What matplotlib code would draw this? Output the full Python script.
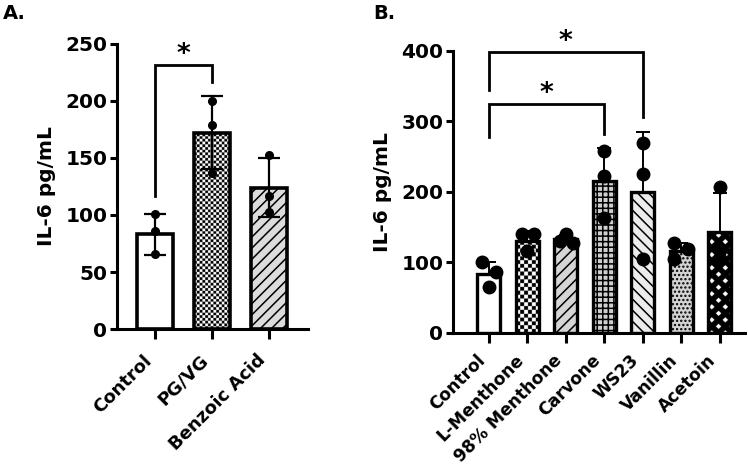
import numpy as np
import matplotlib
matplotlib.use("Agg")
import matplotlib.pyplot as plt

# panel A data
a_groups = ["Control", "PG/VG", "Benzoic Acid"]
a_means = [83, 172, 124]
a_sd = [18, 32, 26]
a_points = [[101, 86, 66], [200, 179, 137], [153, 117, 103]]

# panel B data
b_groups = ["Control", "L-Menthone", "98% Menthone", "Carvone", "WS23", "Vanillin", "Acetoin"]
b_means = [83, 131, 133, 215, 200, 116, 143]
b_sd = [17, 14, 6, 48, 85, 12, 56]
b_points = [[100, 86, 65], [140, 140, 116], [140, 131, 128], [258, 223, 163],
            [270, 226, 105], [128, 119, 105], [207, 118, 105]]
b_jitter = [[-0.18, 0.18, 0], [-0.15, 0.18, 0], [0, -0.16, 0.18], [0, 0, 0],
            [0, 0, 0], [-0.2, 0.18, -0.2], [0, 0, 0]]

# significance brackets: (left, right, top, left leg end, right leg end)
a_sig = [(0, 1, 232, 117, 217)]
b_sig = [(0, 4, 399, 344, 306), (0, 3, 325, 278, 282)]

plt.rcParams["font.family"] = "DejaVu Sans"
plt.rcParams["font.weight"] = "bold"
plt.rcParams["hatch.linewidth"] = 1.1

fig = plt.figure(figsize=(7.48, 4.68), dpi=100)
axA = fig.add_axes([0.1564, 0.297, 0.2553, 0.609])
axB = fig.add_axes([0.6056, 0.2885, 0.390, 0.6026])


def texture(ax, bar, kind, cell):
    x0, y0 = bar.get_x(), bar.get_y()
    w, h = bar.get_width(), bar.get_height()
    (px0, py0), (px1, py1) = ax.transData.transform([(x0, y0), (x0 + w, y0 + h)])
    s = 4  # supersample
    nx, ny = int(round((px1 - px0) * s)), int(round((py1 - py0) * s))
    yy, xx = np.mgrid[0:ny, 0:nx] / s
    if kind == "checker":
        img = ((xx // cell + yy // cell) % 2).astype(float)
    else:  # white diamonds on black
        u = (xx + yy + 3) % cell - cell / 2
        v = (xx - yy + 3) % cell - cell / 2
        img = ((np.abs(u) < 2.7) & (np.abs(v) < 2.7)).astype(float)
    im = ax.imshow(img, cmap="gray", vmin=0, vmax=1, extent=(x0, x0 + w, y0, y0 + h),
                   origin="lower", aspect="auto", interpolation="antialiased", zorder=1.5)
    im.set_clip_path(bar)


def style_axis(ax, ymax, step, xmax, xmin, xfs, xpad):
    ax.set_ylim(0, ymax)
    ax.set_xlim(xmin, xmax)
    ax.set_yticks(np.arange(0, ymax + 1, step))
    for side in ["top", "right"]:
        ax.spines[side].set_visible(False)
    for side in ["left", "bottom"]:
        ax.spines[side].set_linewidth(2.2)
    ax.tick_params(axis="y", length=5, width=2.2, labelsize=14.5, pad=2)
    ax.tick_params(axis="x", length=7, width=2.2, labelsize=xfs, pad=xpad)
    ax.set_ylabel("IL-6 pg/mL", fontsize=14.5, fontweight="bold", labelpad=7)


def brackets(ax, sig, fs):
    for l, r, top, yl, yr in sig:
        ax.plot([l, l, r, r], [yl, top, top, yr], color="black", lw=2.0,
                clip_on=False, solid_joinstyle="miter", zorder=5)
        ax.annotate("*", ((l + r) / 2, top), xytext=(0, 7), textcoords="offset points",
                    ha="center", va="center", fontsize=fs, fontweight="bold",
                    annotation_clip=False)


# ---- panel A
style_axis(axA, 250, 50, 2.684, -0.667, 13, 9)
xa = np.arange(len(a_groups))
a_faces = ["white", "none", "#dcdcdc"]
a_hatch = [None, None, "///"]
barsA = axA.bar(xa, a_means, width=0.62, color=a_faces, edgecolor="black",
                linewidth=2.6, zorder=2)
for b, h in zip(barsA, a_hatch):
    if h:
        b.set_hatch(h)
texture(axA, barsA[1], "checker", 2.7)
axA.errorbar(xa, a_means, yerr=a_sd, fmt="none", ecolor="black", elinewidth=1.6,
             capsize=8, capthick=1.6, zorder=3)
for i, pts in enumerate(a_points):
    axA.plot([i] * len(pts), pts, "o", color="black", ms=5.5, zorder=4)
axA.set_xticks(xa)
axA.set_xticklabels(a_groups, rotation=45, ha="right", fontweight="bold")
brackets(axA, a_sig, 19)

# ---- panel B
style_axis(axB, 400, 100, 6.65, -0.935, 12.3, 6)
xb = np.arange(len(b_groups))
b_faces = ["white", "none", "#d5d5d5", "#cfcfcf", "#ececec", "#d4d4d4", "none"]
b_hatch = [None, None, "///", "+++", "\\\\\\", "....", None]
barsB = axB.bar(xb, b_means, width=0.6, color=b_faces, edgecolor="black",
                linewidth=2.4, zorder=2)
for b, h in zip(barsB, b_hatch):
    if h:
        b.set_hatch(h)
texture(axB, barsB[1], "checker", 3.8)
texture(axB, barsB[6], "diamond", 13)
axB.errorbar(xb, b_means, yerr=[np.zeros(len(b_sd)), b_sd], fmt="none", ecolor="black",
             elinewidth=1.4, capsize=5, capthick=1.4, zorder=3)
for i, (pts, jit) in enumerate(zip(b_points, b_jitter)):
    axB.plot(i + np.array(jit), pts, "o", color="black", ms=9, zorder=4)
axB.set_xticks(xb)
axB.set_xticklabels(b_groups, rotation=45, ha="right", fontweight="bold")
brackets(axB, b_sig, 19)

fig.text(0.004, 0.972, "A.", fontsize=14, fontweight="bold", va="center")
fig.text(0.499, 0.972, "B.", fontsize=14, fontweight="bold", va="center")

fig.savefig("out.png", dpi=100)
